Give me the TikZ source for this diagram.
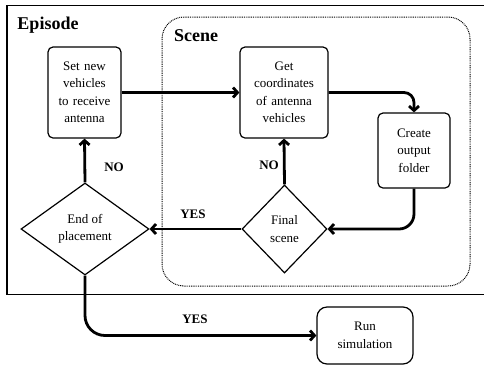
\documentclass[tikz,border=0pt]{standalone}
\usepackage{fontspec}
\setmainfont{Liberation Serif}
\usepackage{tikz}
\usetikzlibrary{arrows.meta,shapes.geometric}

\begin{document}
\begin{tikzpicture}[x=1pt,y=-1pt,
  main node/.style={draw,rounded corners=5,line width=1.2pt,align=center,
    inner sep=2pt,font=\fontsize{13}{17.5}\selectfont},
  decision/.style={draw,diamond,line width=1.2pt,align=center,inner sep=0pt,
    shape aspect=1.4,font=\fontsize{13}{17.5}\selectfont},
  flow/.style={line width=2.8pt,-{Straight Barb[length=4.5pt,width=10pt]}},
  label/.style={font=\fontsize{13}{15}\selectfont\bfseries},
  title/.style={font=\fontsize{18}{20}\selectfont\bfseries}]

  \useasboundingbox (0,0) rectangle (484,365);

  % frames
  \draw[line width=1.4pt] (484,5.5) -- (7,5.5) -- (7,294.7) -- (484,294.7);
  \draw[line width=1pt,dash pattern=on 0.9pt off 0.9pt,rounded corners=22]
    (162,17) rectangle (470,286);
  \node[title] (episode) at (48,25) {Episode};
  \node[title] (scene) at (196,36) {Scene};

  % steps
  \node[main node,text width=69pt,minimum height=91pt] (setnew) at (84.5,92.5)
    {Set new\\vehicles\\to receive\\antenna};
  \node[main node,text width=84pt,minimum height=91pt] (getcoord) at (284,92.5)
    {Get\\coordinates\\of antenna\\vehicles};
  \node[main node,text width=68pt,minimum height=75pt] (output) at (414,150.5)
    {Create\\output\\folder};
  \node[decision,minimum width=85pt,minimum height=88pt] (final) at (284.5,229)
    {Final\\scene};
  \node[decision,minimum width=128pt,minimum height=92pt] (endplace) at (85,229)
    {End of\\placement};
  \node[main node,rounded corners=10,text width=92pt,minimum height=57pt] (runsim) at (365,335.5)
    {Run\\simulation};

  % connectors
  \draw[flow] (setnew.east) -- (getcoord.west);
  \draw[flow,rounded corners=10] (getcoord.east) -| (output.north);
  \draw[flow,rounded corners=15] (output.south) |- (final.east);
  \draw[flow] (final.north) -- (getcoord.south);
  \draw[flow] (final.west) -- (endplace.east);
  \draw[flow] (endplace.north) -- (setnew.south);
  \draw[flow,rounded corners=20] (endplace.south) |- (runsim.west);

  \node[label] (no1) at (114,167) {NO};
  \node[label] (no2) at (269,165) {NO};
  \node[label] (yes1) at (193,214) {YES};
  \node[label] (yes2) at (195,319) {YES};

\end{tikzpicture}
\end{document}
